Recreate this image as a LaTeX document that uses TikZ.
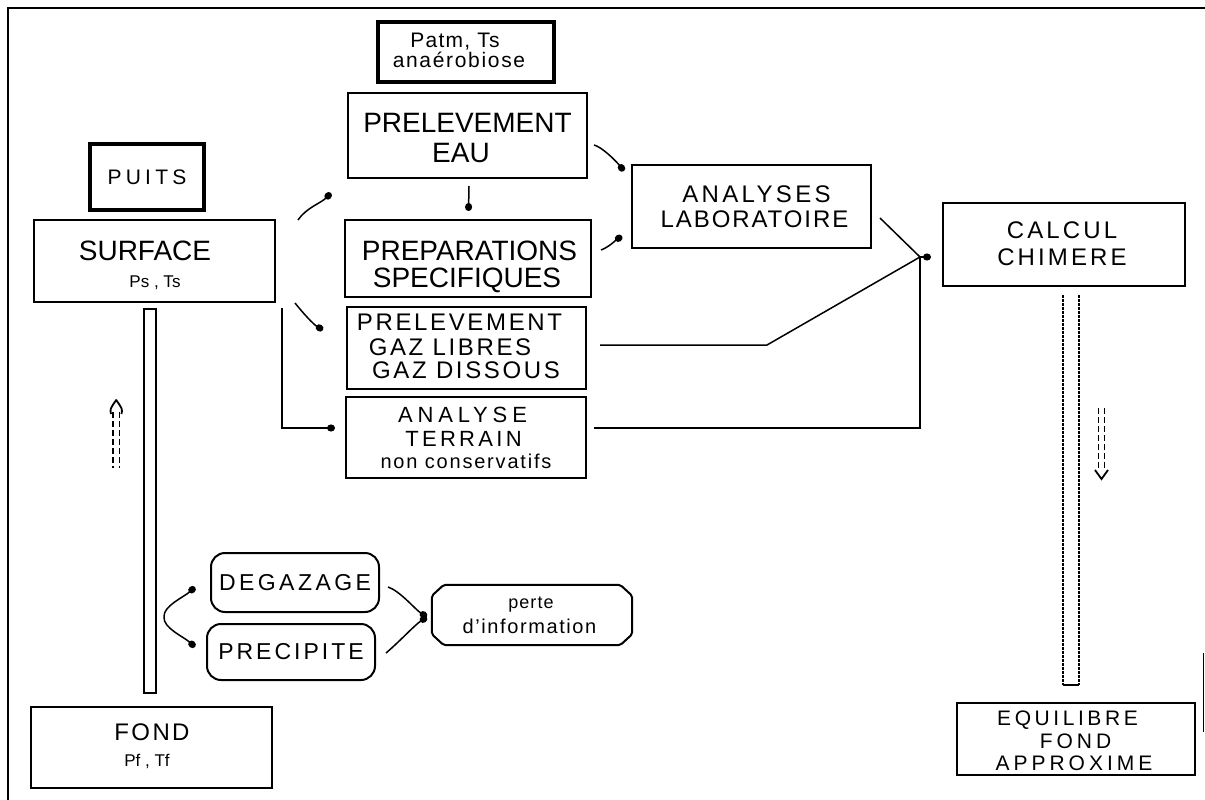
\documentclass[tikz,border=0pt]{standalone}
\usepackage{fontspec}
\setmainfont{Liberation Sans}
\usetikzlibrary{arrows.meta,calc}
\begin{document}
\begin{tikzpicture}[x=1pt,y=-1pt,
  box/.style={draw,line width=2pt,inner sep=0pt},
  thickbox/.style={draw,line width=4pt,inner sep=0pt},
  roundbox/.style={draw,line width=2pt,inner sep=0pt,rounded corners=14pt},
  txt/.style 2 args={anchor=base,inner sep=0pt,font=\fontsize{#1}{#1}\selectfont\addfontfeatures{LetterSpace=#2}},
  conn/.style={line width=1.5pt},
  dotline/.style={line width=1.5pt,-{Circle[length=8pt,width=7pt]}},
  dashpair/.style={line width=1.8pt,dash pattern=on 6pt off 3pt},
  dotpair/.style={line width=2.4pt,dash pattern=on 2.5pt off 1.5pt}
]
\fill[white] (0,0) rectangle (1205,800);
\useasboundingbox (0,0) rectangle (1205,800);

% frame
\draw[line width=2pt] (8,800) -- (8,8) -- (1205,8);
\draw[line width=1.5pt] (1203.5,653) -- (1203.5,732);

% boxes
\node[thickbox,minimum width=176pt,minimum height=60pt] (patm) at (466,52) {};
\node[box,minimum width=239pt,minimum height=85pt] (eau) at (467.5,135.5) {};
\node[thickbox,minimum width=114pt,minimum height=66pt,font=\fontsize{21}{21}\selectfont\addfontfeatures{LetterSpace=20}] (puits) at (147,177) {PUITS};
\node[box,minimum width=241pt,minimum height=82pt] (surf) at (154.5,261) {};
\node[box,minimum width=246pt,minimum height=77pt] (prep) at (468,258.5) {};
\node[box,minimum width=239pt,minimum height=82pt] (gaz) at (466.5,348) {};
\node[box,minimum width=240pt,minimum height=81pt] (terr) at (466,437.5) {};
\node[box,minimum width=239pt,minimum height=83pt] (lab) at (751.5,206.5) {};
\node[box,minimum width=242pt,minimum height=83pt] (calc) at (1064,244.5) {};
\node[box,minimum width=238pt,minimum height=72pt] (equi) at (1076,739) {};
\node[box,minimum width=241pt,minimum height=81pt] (fond) at (151.5,747.5) {};
\node[roundbox,minimum width=168pt,minimum height=59pt,font=\fontsize{23}{23}\selectfont\addfontfeatures{LetterSpace=15}] (deg) at (295,582.5) {DEGAZAGE};
\node[roundbox,minimum width=168pt,minimum height=56pt,font=\fontsize{23}{23}\selectfont\addfontfeatures{LetterSpace=13}] (pre) at (291,652) {PRECIPITE};
\node[inner sep=0pt,minimum width=200pt,minimum height=60pt] (perte) at (532,615) {};
\draw[line width=2pt,rounded corners=2pt]
  ([shift={(12,0)}]perte.north west) -- ([shift={(-12,0)}]perte.north east)
  -- ([shift={(0,11)}]perte.north east) -- ([shift={(0,-11)}]perte.south east)
  -- ([shift={(-12,0)}]perte.south east) -- ([shift={(12,0)}]perte.south west)
  -- ([shift={(0,-11)}]perte.south west) -- ([shift={(0,11)}]perte.north west) -- cycle;

% tubes
\node[draw,line width=2.5pt,inner sep=0pt,minimum width=12pt,minimum height=384pt] (tube) at (150,501) {};
\draw[dotpair] (1063,295) -- (1063,685);
\draw[dotpair] (1079,295) -- (1079,685);
\draw[line width=2.4pt] (1063,685) -- (1079,685);

% flow arrows
\draw[dashpair] (113,412) -- (113,468);
\draw[dashpair] (119.5,412) -- (119.5,468);
\draw[line width=1.8pt,line join=round] (111,414) .. controls (110,409) .. (116.2,400) .. controls (122.5,409) .. (121.5,414);
\draw[dashpair] (1098.5,408) -- (1098.5,470);
\draw[dashpair] (1104.5,408) -- (1104.5,470);
\draw[line width=1.8pt] (1095,470) -- (1101.5,479) -- (1108,470);

% texts
\node[txt={21}{6}] (patm1) at (455,48) {Patm, Ts};
\node[txt={21}{8}] (patm2) at (459,68) {anaérobiose};
\node[txt={28}{0}] (eau1) at (467.5,132) {PRELEVEMENT};
\node[txt={28}{0}] (eau2) at (461,162) {EAU};
\node[txt={28}{0}] (surf1) at (145,260) {SURFACE};
\node[txt={17}{0}] (surf2) at (155,287) {Ps , Ts};
\node[txt={28}{0}] (prep1) at (469.5,260) {PREPARATIONS};
\node[txt={28}{0}] (prep2) at (467,287) {SPECIFIQUES};
\node[txt={24}{11}] (gaz1) at (459.5,330) {PRELEVEMENT};
\node[txt={24}{11}] (gaz2) at (450,355) {GAZ LIBRES};
\node[txt={24}{11}] (gaz3) at (466,378) {GAZ DISSOUS};
\node[txt={22}{22}] (terr1) at (462.5,422) {ANALYSE};
\node[txt={22}{15}] (terr2) at (463.5,446) {TERRAIN};
\node[txt={20}{9}] (terr3) at (466,468) {non conservatifs};
\node[txt={24}{14}] (lab1) at (756.5,202) {ANALYSES};
\node[txt={24}{8}] (lab2) at (754.5,227) {LABORATOIRE};
\node[txt={24}{13}] (calc1) at (1062,238) {CALCUL};
\node[txt={24}{13}] (calc2) at (1062,265) {CHIMERE};
\node[txt={21}{17}] (eq1) at (1067.5,725) {EQUILIBRE};
\node[txt={21}{19}] (eq2) at (1075.5,748) {FOND};
\node[txt={21}{19}] (eq3) at (1074,770) {APPROXIME};
\node[txt={24}{10}] (fond1) at (152,740) {FOND};
\node[txt={17}{0}] (fond2) at (147,766) {Pf , Tf};
\node[txt={18}{6}] (perte1) at (531,608) {perte};
\node[txt={20}{8}] (perte2) at (529.5,633) {d'information};

% connectors
\draw[dotline] ([shift={(22,1)}]surf.north east) .. controls +(8,-12) and +(-10,10) .. ([shift={(-16,14)}]eau.south west);
\draw[dotline] ([shift={(19,0)}]surf.south east) .. controls +(8,10) and +(-10,-6) .. ([shift={(-23,-18)}]gaz.west);
\draw[dotline] ([shift={(6,5)}]surf.south east) |- ([shift={(-10,-9.5)}]terr.west);
\draw[dotline] ([shift={(1.5,7)}]eau.south) -- ([shift={(0.5,-8)}]prep.north);
\draw[dotline] ([shift={(6,9.5)}]eau.east) .. controls +(8,2) and +(-8,-10) .. ([shift={(-7,7)}]lab.north west);
\draw[dotline] ([shift={(9,-8.5)}]prep.east) .. controls +(8,-3) and +(-6,4) .. ([shift={(-9,-13)}]lab.south west);

\coordinate (jc) at ([shift={(-22,12.5)}]calc.west);
\coordinate (gk) at ([shift={(180,-3)}]gaz.east);
\draw[conn] ([shift={(8,11.5)}]lab.east) -- (jc);
\draw[conn] ([shift={(13,-3)}]gaz.east) -- (gk) -- (jc);
\draw[conn] ([shift={(7,-9.5)}]terr.east) -| (jc);
\draw[dotline] (jc) -- ([shift={(-11,12.5)}]calc.west);

\coordinate (lv) at (164,617);
\draw[dotline] (lv) .. controls (163,606) and (184,597) .. ([shift={(-15,4.5)}]deg.west);
\draw[dotline] (lv) .. controls (163,628) and (184,637) .. ([shift={(-11,-5)}]pre.west);
\coordinate (rv) at ([shift={(-5,2)}]perte.west);
\draw[dotline] ([shift={(8,4.5)}]deg.east) .. controls +(12,4) and +(-12,-8) .. (rv);
\draw[dotline] ([shift={(10,1)}]pre.east) .. controls +(12,-10) and +(-12,8) .. (rv);
\end{tikzpicture}
\end{document}
